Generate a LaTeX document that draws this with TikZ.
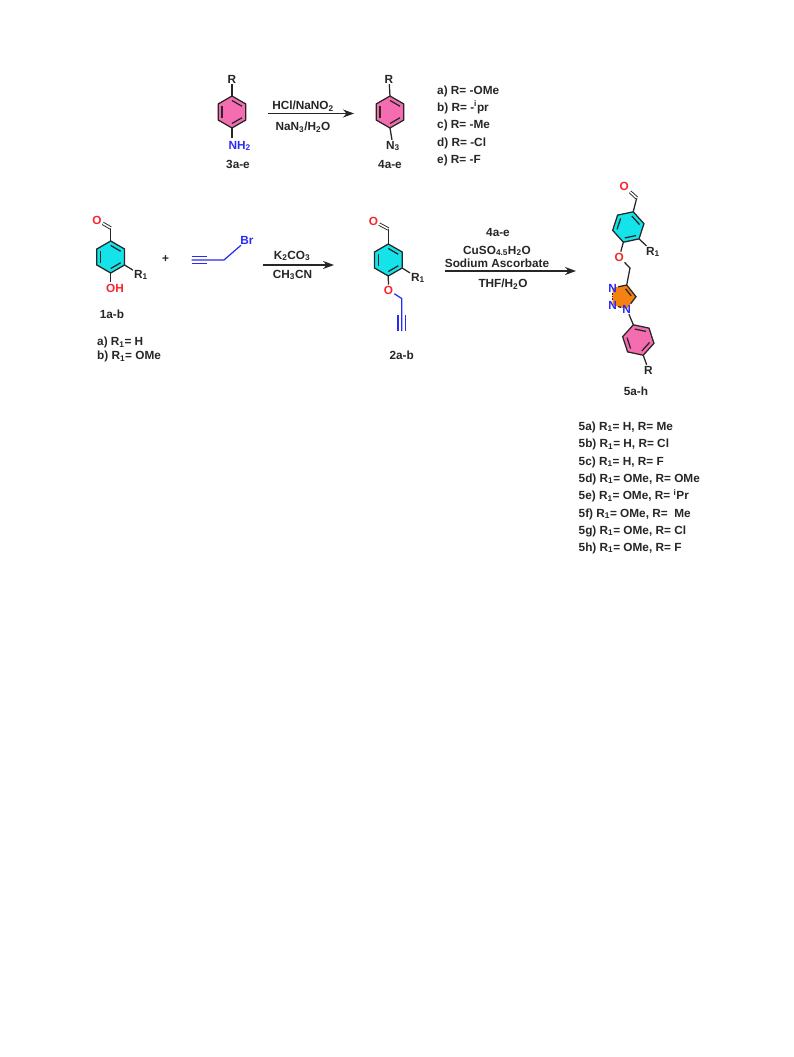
\documentclass[tikz,border=0pt]{standalone}
\usepackage{fontspec}
\setmainfont{Liberation Sans}
\usetikzlibrary{calc,arrows.meta}
\definecolor{pinkring}{HTML}{F46DB0}
\definecolor{cyanring}{HTML}{14E4EA}
\definecolor{orangering}{HTML}{F58210}
\definecolor{atomblue}{HTML}{2A2AF5}
\definecolor{atomred}{HTML}{F5262C}
\definecolor{inkdark}{HTML}{262626}
\tikzset{
  bond/.style={draw=inkdark,line width=1.25pt},
  bluebond/.style={draw=atomblue,line width=1.25pt},
  chem/.style={font=\bfseries\fontsize{11.8}{13}\selectfont,text=inkdark,inner sep=1pt},
  redatom/.style={chem,text=atomred},
  blueatom/.style={chem,text=atomblue},
  listline/.style={chem,anchor=base west},
  reaction/.style={draw=inkdark,line width=1.3pt,-{Stealth[length=11pt,width=8pt]}},
}
\newcommand{\sbs}[1]{\textsubscript{#1}}
\newcommand{\sps}[1]{\textsuperscript{#1}}
% six-ring: name, centre x, centre y, angle of first corner, fill
\newcommand{\arylring}[5]{
  \coordinate (#1c) at (#2,#3);
  \foreach \k in {1,...,6}
    \coordinate (#1\k) at ($(#1c)+({-(#4-60*(\k-1))}:16)$);
  \draw[bond,fill=#5] (#11)--(#12)--(#13)--(#14)--(#15)--(#16)--cycle;
  \foreach \p/\q in {1/2,3/4,5/6}
    \draw[bond] ($(#1c)!.72!(#1\p)$) -- ($(#1c)!.72!(#1\q)$);
}
\begin{document}
\begin{tikzpicture}[x=1pt,y=-1pt]
\useasboundingbox (0,0) rectangle (793,1057);

% first reaction
\arylring{ringA}{232}{112}{90}{pinkring}
\arylring{ringD}{390}{112}{90}{pinkring}
\node[chem] (rA) at (232,79) {R};
\node[blueatom,anchor=west] (nhA) at (227.5,146) {NH\sbs{2}};
\coordinate (nhAbond) at (232,138);
\node[chem] (lblA) at (238,164) {3a-e};
\draw[bond] (ringA1) -- (rA);
\draw[bond] (ringA4) -- (nhAbond);
\node[chem] (rD) at (389,79) {R};
\node[chem] (nD) at (393,146) {N\sbs{3}};
\node[chem] (lblD) at (390,164) {4a-e};
\draw[bond] (ringD1) -- (rD);
\draw[bond] (ringD4) -- (nD);
\coordinate (arrAs) at (268,113.5);
\coordinate (arrAe) at (354,113.5);
\draw[reaction] (arrAs) -- (arrAe);
\node[chem] (hcl) at (303,106) {HCl/NaNO\sbs{2}};
\node[chem] (nan) at (303,127) {NaN\sbs{3}/H\sbs{2}O};
\foreach \lbl/\yy/\txt in {la/94/{a) R= -OMe},lb/111/{b) R= -\sps{i}pr},lc/128.5/{c) R= -Me},ld/146/{d) R= -Cl},le/163/{e) R= -F}}
  \node[listline] (\lbl) at (436,\yy) {\txt};

% phenol and propargyl bromide
\arylring{ringB}{110.7}{257}{90}{cyanring}
\coordinate (choB) at (110.7,228);
\node[redatom] (oB) at (97,220) {O};
\draw[bond] (ringB1) -- (choB);
\draw[bond,double,double distance=1.6pt,line width=.9pt] (choB) -- (oB);
\node[chem] (rB) at (141,275) {R\sbs{1}};
\draw[bond] (ringB3) -- (rB);
\node[redatom] (ohB) at (115,288) {OH};
\coordinate (ohBbond) at (110.7,282);
\draw[bond] (ringB4) -- (ohBbond);
\node[chem] (lblB) at (112,314) {1a-b};
\node[listline] (laB) at (96,345.5) {a) R\sbs{1}= H};
\node[listline] (lbB) at (96,359.5) {b) R\sbs{1}= OMe};
\node[chem] (plus) at (165.5,259.5) {+};
\coordinate (trA) at (191.5,260);
\coordinate (trB) at (207,260);
\coordinate (trC) at (224,260);
\node[blueatom] (br) at (247,240) {Br};
\draw[bluebond] (trA) -- (trC) -- (br);
\draw[bluebond] ([yshift=3.4pt]trA) -- ([yshift=3.4pt]trB);
\draw[bluebond] ([yshift=-3.4pt]trA) -- ([yshift=-3.4pt]trB);
\coordinate (arrBs) at (262.5,265);
\coordinate (arrBe) at (334,265);
\draw[reaction] (arrBs) -- (arrBe);
\node[chem] (kco) at (292,256) {K\sbs{2}CO\sbs{3}};
\node[chem] (mecn) at (292.5,275) {CH\sbs{3}CN};

% propargyl ether
\arylring{ringC}{388.3}{260}{90}{cyanring}
\coordinate (choC) at (388.3,229);
\node[redatom] (oC) at (373.5,221) {O};
\draw[bond] (ringC1) -- (choC);
\draw[bond,double,double distance=1.6pt,line width=.9pt] (choC) -- (oC);
\node[chem] (rC) at (418,278) {R\sbs{1}};
\draw[bond] (ringC3) -- (rC);
\node[redatom] (oetherC) at (388.5,290) {O};
\draw[bond] (ringC4) -- (oetherC);
\coordinate (chC) at (401.7,298.5);
\coordinate (tsC) at (401.7,315);
\coordinate (teC) at (401.7,331);
\draw[bluebond] (oetherC) -- (chC) -- (teC);
\draw[bluebond] ([xshift=3.6pt]tsC) -- ([xshift=3.6pt]teC);
\draw[bluebond] ([xshift=-3.6pt]tsC) -- ([xshift=-3.6pt]teC);
\node[chem] (lblC) at (401.7,355) {2a-b};
\coordinate (arrCs) at (445,271);
\coordinate (arrCe) at (576,271);
\draw[reaction] (arrCs) -- (arrCe);
\node[chem] (cAzide) at (498,232) {4a-e};
\node[chem] (cCu) at (497,251) {CuSO\sbs{4.5}H\sbs{2}O};
\node[chem] (cAsc) at (497,263.5) {Sodium Ascorbate};
\node[chem] (cThf) at (503,284) {THF/H\sbs{2}O};

% triazole product
\arylring{ringE}{628.3}{227}{72}{cyanring}
\arylring{ringF}{638.3}{340}{108}{pinkring}
\coordinate (choE) at (636.7,198);
\node[redatom] (oE) at (624.3,186.5) {O};
\draw[bond] (ringE1) -- (choE);
\draw[bond,double,double distance=1.6pt,line width=.9pt] (choE) -- (oE);
\node[chem] (rE) at (653,252) {R\sbs{1}};
\draw[bond] (ringE3) -- (rE);
\node[redatom] (oetherE) at (619.3,257) {O};
\coordinate (chE) at (630,268);
\coordinate (ctC) at (626.7,285);
\coordinate (ctD) at (636,296.7);
\coordinate (fillA) at (626.7,309);
\coordinate (fillB) at (612.7,305);
\coordinate (fillC) at (612.7,288);
\fill[orangering] (ctC) -- (ctD) -- (fillA) -- (fillB) -- (fillC) -- cycle;
\node[blueatom] (nA) at (fillA) {N};
\node[blueatom] (nB) at (fillB) {N};
\node[blueatom] (nC) at (fillC) {N};
\draw[bond] (ringE4) -- (oetherE) -- (chE) -- (ctC) -- (ctD) -- (nA);
\draw[bond] (ctC) -- (nC);
\draw[bond] ($(ctC)!.2!(ctD)+(-3,1.5)$) -- ($(ctC)!.8!(ctD)+(-3,1.5)$);
\draw[bond] (nA) -- (nB);
\draw[bond,dash pattern=on 1.5pt off 1pt] (nB) -- (nC);
\draw[bond] (nA) -- (ringF1);
\node[chem] (rF) at (648.5,370) {R};
\draw[bond] (ringF4) -- (rF);
\node[chem] (lblE) at (636,391.5) {5a-h};
\foreach \lbl/\yy/\txt in {
  pa/430/{5a) R\sbs{1}= H, R= Me},
  pb/447.5/{5b) R\sbs{1}= H, R= Cl},
  pc/465/{5c) R\sbs{1}= H, R= F},
  pd/482/{5d) R\sbs{1}= OMe, R= OMe},
  pe/499.5/{5e) R\sbs{1}= OMe, R= \sps{i}Pr},
  pf/517/{5f) R\sbs{1}= OMe, R=\ \ Me},
  pg/534/{5g) R\sbs{1}= OMe, R= Cl},
  ph/551/{5h) R\sbs{1}= OMe, R= F}}
  \node[listline] (\lbl) at (577.5,\yy) {\txt};
\end{tikzpicture}
\end{document}
